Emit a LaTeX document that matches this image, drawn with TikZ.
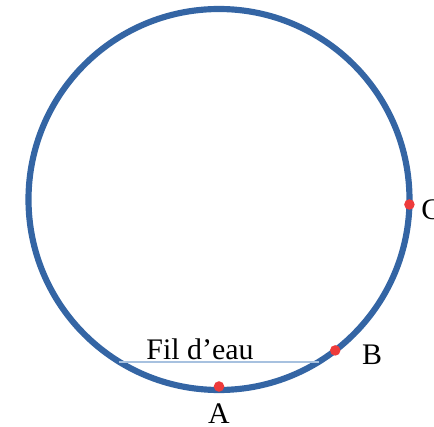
\documentclass[tikz,border=0pt]{standalone}
\usepackage{fontspec}
\setmainfont{Liberation Serif}
\usetikzlibrary{positioning, calc}

\definecolor{pipeblue}{HTML}{3465A4}
\definecolor{waterblue}{HTML}{A7C1DF}
\definecolor{ptred}{HTML}{EE3B3B}

\begin{document}
\begin{tikzpicture}[
      x=0.02cm, y=0.02cm,
      pipe/.style={
        draw=pipeblue, line width=3.5pt
      },
      water/.style={
        draw=waterblue, line width=0.9pt
      },
      pt/.style={
        circle, fill=ptred, inner sep=0pt, minimum size=6pt
      },
      lbl/.style={
        font=\fontsize{17}{20}\selectfont, text=black, inner sep=0pt
      }
    ]
    \useasboundingbox (0,0) rectangle (434,427);

    % --- Pipe section ---
    \coordinate (ctr) at (219,227.5);
    \draw[pipe] (ctr) circle (190.5);

    % --- Water level ---
    \coordinate (wl) at ($(ctr)+(238.5:190.5)$);
    \coordinate (wr) at ($(ctr)+(301.5:190.5)$);
    \draw[water] (wl) -- (wr);
    \node[lbl, anchor=base] (fil) at (200,67) {Fil d’eau};

    % --- Points ---
    \node[pt] (ptA) at ($(ctr)+(-90:187)$) {};
    \node[pt] (ptB) at ($(ctr)+(-52.4:190.5)$) {};
    \node[pt] (ptC) at ($(ctr)+(-1.5:190.5)$) {};

    % --- Point labels ---
    \node[lbl, anchor=base] (labA) at (219,3) {A};
    \node[lbl, anchor=base] (labB) at (372,62) {B};
    \node[lbl, anchor=base west] (labC) at (421,207) {C};

  \end{tikzpicture}
\end{document}
